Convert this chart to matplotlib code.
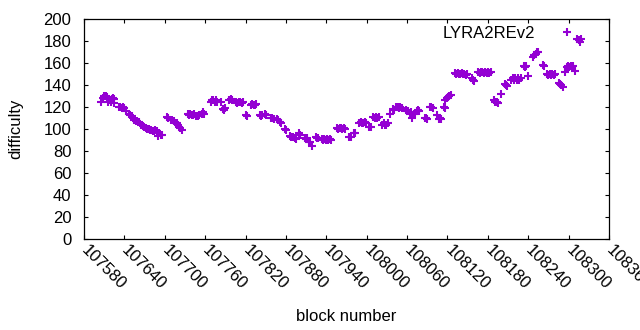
import matplotlib
matplotlib.use('Agg')
import matplotlib.pyplot as plt

plt.rcParams['font.family'] = ['Liberation Sans', 'DejaVu Sans']
plt.rcParams['font.size'] = 12

# bloque y dificultad (LYRA2REv2)
bloques = [
    107605,
    107608, 107610, 107612, 107614,
    107616, 107618, 107620,
    107621, 107623, 107625,
    107624,
    107632, 107634, 107636, 107638, 107640,
    107643,
    107647, 107649, 107651,
    107655, 107657, 107659, 107661,
    107665, 107667, 107669,
    107672, 107674, 107676,
    107678, 107680, 107682, 107684, 107686, 107688,
    107690,
    107692, 107694, 107696,
    107703, 107705,
    107709, 107711, 107713,
    107716, 107718, 107720,
    107721, 107723,
    107726,
    107734, 107736, 107738, 107740, 107742, 107744,
    107747, 107749, 107751,
    107755, 107757, 107759,
    107768, 107770, 107772, 107774, 107776, 107778,
    107783,
    107786, 107788,
    107789,
    107796, 107798, 107800,
    107806, 107808, 107810, 107812, 107814, 107816,
    107820, 107822,
    107828, 107830, 107832, 107834, 107836,
    107841, 107843, 107845,
    107849, 107851,
    107858, 107860, 107862,
    107866, 107868,
    107871, 107873,
    107878, 107880,
    107886, 107888, 107890,
    107893, 107895,
    107899, 107901,
    107908, 107910, 107912,
    107914, 107916,
    107918,
    107924, 107926, 107928,
    107933, 107935, 107937, 107939, 107941, 107943, 107945, 107947,
    107956, 107958, 107960, 107962, 107964, 107966, 107968,
    107974, 107976,
    107981, 107983,
    107989, 107991, 107993, 107995, 107997, 107999,
    108004, 108006,
    108010, 108012, 108014, 108016, 108018,
    108023, 108025, 108027, 108029, 108031,
    108035,
    108039, 108041,
    108044, 108046, 108048, 108050, 108052,
    108058, 108060, 108062,
    108064, 108066, 108070, 108072,
    108068,
    108074, 108076, 108078,
    108086, 108088, 108090,
    108094, 108096, 108098,
    108104,
    108107, 108109, 108111,
    108115, 108117,
    108117, 108119, 108121, 108123, 108125,
    108131, 108133, 108135, 108137, 108139, 108141, 108143, 108145, 108147, 108149,
    108156, 108158, 108160,
    108166, 108168, 108170, 108172, 108174, 108176, 108178, 108180, 108182, 108184,
    108189, 108191, 108193, 108195,
    108200,
    108205, 108207, 108209,
    108215, 108217, 108219, 108221, 108223, 108225, 108227, 108229,
    108233, 108235, 108237,
    108240,
    108247, 108249, 108251, 108253, 108255,
    108262, 108264,
    108268, 108270, 108272, 108274, 108276, 108278, 108280,
    108285, 108287, 108289, 108291,
    108295,
    108297, 108299, 108301, 108303, 108305, 108307,
    108310,
    108313, 108315, 108317, 108319,
]
dificultad = [
    125,
    128, 130, 130, 129,
    125, 126, 125,
    127, 128, 127,
    124,
    120, 120, 119, 120, 119,
    116,
    114, 113, 112,
    108, 107, 107, 106,
    104, 103, 102,
    101, 100, 100,
    99, 99, 98, 98, 99, 98,
    94,
    96, 95, 95,
    111, 110,
    108, 108, 107,
    105, 105, 104,
    102, 101,
    99,
    114, 113, 114, 113, 113, 114,
    112, 112, 113,
    114, 115, 114,
    125, 126, 126, 125, 126, 125,
    125,
    118, 117,
    119,
    126, 127, 126,
    125, 124, 125, 125, 124, 125,
    113, 112,
    122, 123, 122, 122, 123,
    113, 112, 113,
    114, 113,
    110, 110, 109,
    109, 108,
    106, 105,
    100, 99,
    94, 93, 93,
    92, 91,
    96, 95,
    92, 91, 92,
    88, 88,
    85,
    93, 92, 92,
    91, 90, 91, 90, 91, 90, 91, 90,
    101, 100, 101, 101, 100, 101, 100,
    93, 93,
    96, 96,
    105, 106, 105, 105, 106, 105,
    102, 102,
    111, 110, 111, 110, 111,
    104, 105, 104, 104, 105,
    114,
    118, 117,
    120, 120, 119, 120, 119,
    117, 116, 116,
    114, 115, 114, 114,
    110,
    116, 117, 116,
    110, 110, 109,
    120, 120, 119,
    113,
    109, 110, 109,
    120, 119,
    126, 128, 129, 130, 131,
    151, 150, 151, 150, 150, 151, 150, 150, 149, 150,
    146, 145, 144,
    152, 151, 152, 152, 151, 152, 151, 152, 151, 152,
    126, 125, 125, 124,
    132,
    141, 140, 139,
    145, 146, 145, 146, 145, 146, 145, 146,
    157, 156, 157,
    148,
    165, 167, 168, 170, 170,
    158, 157,
    150, 149, 150, 149, 150, 149, 150,
    142, 141, 140, 138,
    152,
    156, 157, 156, 157, 156, 157,
    153,
    182, 181, 179, 182,
]

ticks_x = list(range(107580, 108361, 60))
ticks_y = list(range(0, 201, 20))

fig = plt.figure(figsize=(6.4, 3.3), dpi=100)
ax = fig.add_axes([84/640, 1 - 239/330, 525/640, 220/330])

ax.plot(bloques, dificultad, ls='none', marker='+', markersize=6,
        markeredgewidth=1.5, color='#9400d3', label='LYRA2REv2')

ax.set_xlim(107580, 108360)
ax.set_ylim(0, 200)
ax.set_xticks(ticks_x)
ax.set_yticks(ticks_y)
ax.set_xticklabels([str(t) for t in ticks_x], rotation=-45, ha='left',
                   va='center', rotation_mode='anchor')
ax.tick_params(direction='in', length=3, width=0.8, top=True, right=True,
               colors='black')
ax.tick_params(axis='x', pad=6)
ax.tick_params(axis='y', pad=9)
for s in ax.spines.values():
    s.set_linewidth(0.9)

ax.set_xlabel('block number')
ax.set_ylabel('difficulty')
ax.xaxis.set_label_coords(0.5, -0.318)
ax.yaxis.set_label_coords(-0.116, 0.5)

ax.legend(loc='upper right', bbox_to_anchor=(0.965, 1.0), borderaxespad=0,
          frameon=False, markerfirst=False, handlelength=2, handletextpad=0.92,
          borderpad=0.4)

fig.savefig('out.png', dpi=100)
